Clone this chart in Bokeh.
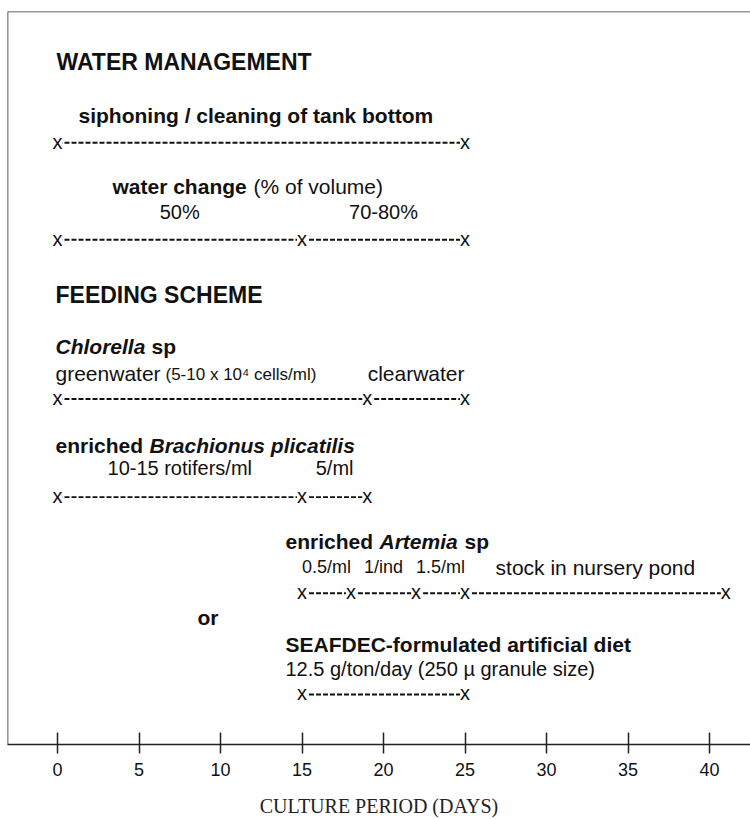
from bokeh.plotting import figure
from bokeh.models import Range1d, FixedTicker, Span, ColumnDataSource, Label
from bokeh.core.properties import value
from bokeh.embed import file_html
from bokeh.resources import INLINE

# ---------------- data ----------------
day_ticks = [0, 5, 10, 15, 20, 25, 30, 35, 40]

siphoning_days = [0, 25]
water_change_days = [0, 15, 25]
water_change_labels = ["50%", "70-80%"]
chlorella_days = [0, 19, 25]
chlorella_labels = ["greenwater", "clearwater"]
chlorella_density = "(5-10 x 10\u2074 cells/ml)"
brachionus_days = [0, 15, 19]
brachionus_labels = ["10-15 rotifers/ml", "5/ml"]
artemia_days = [15, 18, 22, 25, 41]
artemia_labels = ["0.5/ml", "1/ind", "1.5/ml", "stock in nursery pond"]
diet_days = [15, 25]
diet_rate = "12.5 g/ton/day (250 \u00b5 granule size)"

# ---------------- layout helpers ----------------
PX0, PXD = 57.0, 16.3          # page x of day 0, pixels per day


def dx(px):
    return (px - PX0) / PXD


INK = "#111111"
SANS = "Liberation Sans"

p = figure(width=750, height=819,
           x_range=Range1d(dx(7), dx(750)), y_range=Range1d(743, 11),
           output_backend="svg", toolbar_location=None,
           y_axis_location=None,
           min_border_left=7, min_border_right=0, min_border_top=11, min_border_bottom=0)
p.grid.visible = False
p.outline_line_color = None
p.background_fill_color = "white"
p.border_fill_color = "white"

ax = p.xaxis[0]
ax.ticker = FixedTicker(ticks=day_ticks)
ax.major_tick_in = 12
ax.major_tick_out = 9
ax.minor_tick_line_color = None
ax.axis_line_width = 1.6
ax.axis_line_color = "#222222"
ax.major_tick_line_width = 1.5
ax.major_tick_line_color = "#222222"
ax.major_label_text_font = SANS
ax.major_label_text_font_size = "18px"
ax.major_label_text_color = INK
ax.major_label_standoff = 9
ax.axis_label = "CULTURE PERIOD (DAYS)"
ax.axis_label_text_font = "Liberation Serif"
ax.axis_label_text_font_style = "normal"
ax.axis_label_text_font_size = "20px"
ax.axis_label_text_color = "#222222"
ax.axis_label_standoff = 16

# frame: left and top edges only
p.add_layout(Span(location=dx(7), dimension="height", line_color="#333333", line_width=1.6))
p.add_layout(Span(location=11, dimension="width", line_color="#333333", line_width=1.6))


def label(px, y, text, size="21px", style="normal", align="left", font=SANS):
    p.add_layout(Label(x=dx(px), y=y, text=text, text_font=font, text_font_size=size,
                       text_font_style=style, text_align=align, text_baseline="middle",
                       text_color=INK))


def timeline(days, y):
    src = ColumnDataSource(dict(x0=days[:-1], x1=days[1:], y=[y] * (len(days) - 1)))
    p.segment(x0="x0", y0="y", x1="x1", y1="y", source=src,
              line_color=INK, line_width=1.9, line_dash="5 2")
    p.text(x=days, y=[y - 1] * len(days), text=["x"] * len(days),
           text_font=value(SANS), text_font_size="20px", text_align="center",
           text_baseline="middle", text_color=INK,
           background_fill_color="white")


def seg_labels(days, labels, y, sizes):
    mids = [(a + b) / 2 for a, b in zip(days[:-1], days[1:])]
    src = ColumnDataSource(dict(x=mids, y=[y] * len(mids), t=labels, s=sizes))
    p.text(x="x", y="y", text="t", source=src, text_font=value(SANS),
           text_font_size="s", text_align="center", text_baseline="middle",
           text_color=INK)


# ---------------- WATER MANAGEMENT ----------------
label(56, 61, "WATER MANAGEMENT", size="23px", style="bold")
label(78, 115, "siphoning / cleaning of tank bottom", style="bold")
timeline(siphoning_days, 142)

label(112, 186, "water change", style="bold")
label(253, 186, "(% of volume)")
seg_labels(water_change_days, water_change_labels, 211, ["20px", "20px"])
timeline(water_change_days, 239)

# ---------------- FEEDING SCHEME ----------------
label(55, 294, "FEEDING SCHEME", size="23px", style="bold")

label(55, 346, "Chlorella", style="bold italic")
label(151, 346, "sp", style="bold")
label(55, 373, chlorella_labels[0])
label(165, 374, chlorella_density, size="17px")
seg_labels(chlorella_days[1:], chlorella_labels[1:], 373, ["21px"])
timeline(chlorella_days, 398)

label(55, 444, "enriched", style="bold")
label(149, 444, "Brachionus plicatilis", style="bold italic")
seg_labels(brachionus_days, brachionus_labels, 467, ["20px", "20px"])
timeline(brachionus_days, 496)

label(285, 540, "enriched", style="bold")
label(379, 540, "Artemia", style="bold italic")
label(464, 540, "sp", style="bold")
seg_labels(artemia_days, artemia_labels, 566, ["18px", "18px", "18px", "21px"])
timeline(artemia_days, 592)

label(197, 616, "or", style="bold")

label(285, 643, "SEAFDEC-formulated artificial diet", style="bold")
label(285, 668, diet_rate, size="20px")
timeline(diet_days, 693)

open("out.html", "w").write(file_html(p, INLINE))
